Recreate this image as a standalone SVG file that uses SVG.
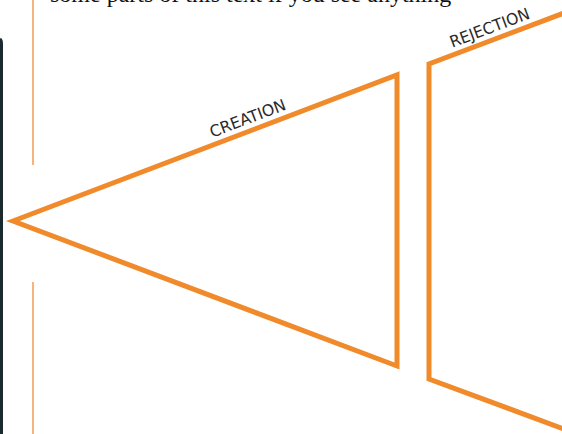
<svg xmlns="http://www.w3.org/2000/svg" width="562" height="434" viewBox="0 0 562 434">
<style>
.shape{fill:none;stroke:#f08a2a;stroke-width:5;stroke-linejoin:miter}
.guide{stroke:#f3a25a;stroke-width:1.6;fill:none}
.lbl{font-family:"DejaVu Sans Condensed","DejaVu Sans",sans-serif;font-size:16px;fill:#2a2a2a;text-anchor:middle}
.body{font-family:"Liberation Serif",serif;font-size:24px;fill:#111}
</style>
<rect width="562" height="434" fill="#fff"/>
<text class="body" x="50" y="2">some parts of this text if you see anything</text>
<g id="frame">
<path d="M1.5,434 V44 Q1.5,40 0,39" stroke="#1a2a2e" stroke-width="3" fill="none"/>
</g>
<g id="guides">
<line class="guide" x1="33" y1="0" x2="33" y2="165"/>
<line class="guide" x1="33" y1="282" x2="33" y2="434"/>
</g>
<g id="creation">
<polygon class="shape" points="13,221 397,75 397,366"/>
<text class="lbl" transform="translate(252,130) rotate(-20.8)" y="-7" textLength="80" lengthAdjust="spacingAndGlyphs">CREATION</text>
</g>
<g id="rejection">
<path class="shape" d="M572,10 L429,64 L429,379 L572,432"/>
<text class="lbl" transform="translate(494,39.5) rotate(-20.6)" y="-7" textLength="84" lengthAdjust="spacingAndGlyphs">REJECTION</text>
</g>
</svg>
